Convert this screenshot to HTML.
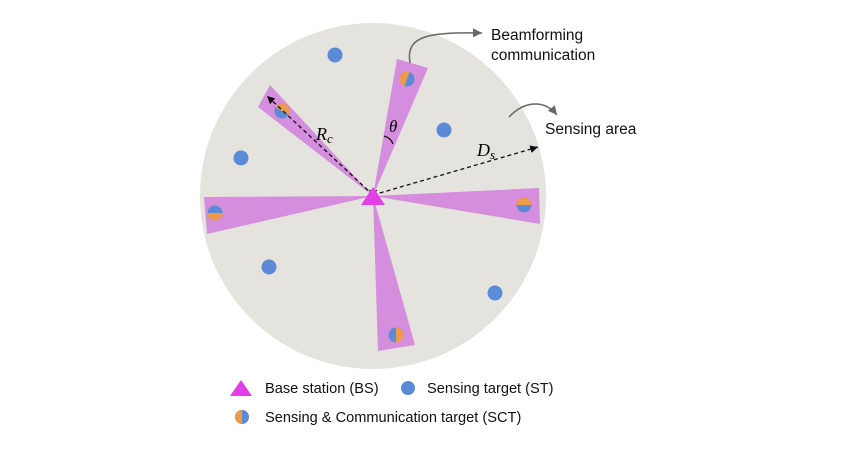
<!DOCTYPE html>
<html><head><style>body{margin:0;background:#fff}svg{display:block}</style></head><body>
<svg width="850" height="450" viewBox="0 0 850 450" xmlns="http://www.w3.org/2000/svg" font-family="Liberation Sans, sans-serif">
<defs><marker id="a" markerWidth="8" markerHeight="8" refX="6" refY="3" orient="auto"><path d="M0,0L6,3L0,6z" fill="#111"/></marker>
<marker id="g" markerWidth="8" markerHeight="8" refX="6" refY="3" orient="auto"><path d="M0,0L6,3L0,6z" fill="#666"/></marker></defs>
<circle cx="373" cy="196" r="173" fill="#e5e3de"/>
<g fill="#d58ddd">
<polygon points="373,196 397,59 428,68"/>
<polygon points="373,196 270,85 258,107"/>
<polygon points="373,196 204,197 207,234"/>
<polygon points="373,196 539,188 540,224"/>
<polygon points="373,196 378,351 415,345"/>
</g>
<g fill="#5b8ad6">
<circle cx="335" cy="55" r="7.5"/><circle cx="444" cy="130" r="7.5"/><circle cx="241" cy="158" r="7.5"/><circle cx="269" cy="267" r="7.5"/><circle cx="495" cy="293" r="7.5"/>
</g>
<g>
<g transform="translate(407,79) rotate(20)"><circle r="7.5" fill="#5b8ad6"/><path d="M0,-7.5A7.5,7.5 0 0 0 0,7.5z" fill="#ee9a4d"/></g>
<g transform="translate(282,111) rotate(120)"><circle r="7.5" fill="#5b8ad6"/><path d="M0,-7.5A7.5,7.5 0 0 0 0,7.5z" fill="#ee9a4d"/></g>
<g transform="translate(215,213) rotate(-90)"><circle r="7.5" fill="#5b8ad6"/><path d="M0,-7.5A7.5,7.5 0 0 0 0,7.5z" fill="#ee9a4d"/></g>
<g transform="translate(524,205) rotate(90)"><circle r="7.5" fill="#5b8ad6"/><path d="M0,-7.5A7.5,7.5 0 0 0 0,7.5z" fill="#ee9a4d"/></g>
<g transform="translate(396,335) rotate(180)"><circle r="7.5" fill="#5b8ad6"/><path d="M0,-7.5A7.5,7.5 0 0 0 0,7.5z" fill="#ee9a4d"/></g>
</g>
<line x1="373" y1="195" x2="267" y2="96" stroke="#111" stroke-width="1.3" stroke-dasharray="4,3" marker-end="url(#a)"/>
<line x1="373" y1="195" x2="538" y2="147" stroke="#111" stroke-width="1.3" stroke-dasharray="4,3" marker-end="url(#a)"/>
<path d="M384,136 Q391,138 393,144" fill="none" stroke="#111" stroke-width="1.2"/>
<path d="M369,190 Q373,194 377,190" fill="none" stroke="#111" stroke-width="1"/>
<polygon points="361,205 385,205 373,187" fill="#e23fe6"/>
<text x="316" y="140" font-family="Liberation Serif, serif" font-style="italic" font-size="18">R<tspan font-size="13" dy="3">c</tspan></text>
<text x="477" y="156" font-family="Liberation Serif, serif" font-style="italic" font-size="18">D<tspan font-size="13" dy="3">s</tspan></text>
<text x="389" y="132" font-family="Liberation Serif, serif" font-style="italic" font-size="17">θ</text>
<path d="M410,63 C405,35 430,32 482,33" fill="none" stroke="#666" stroke-width="1.5" marker-end="url(#g)"/>
<path d="M509,117 C525,100 545,100 557,115" fill="none" stroke="#666" stroke-width="1.5" marker-end="url(#g)"/>
<g font-size="15.5" fill="#111">
<text x="491" y="40">Beamforming</text>
<text x="491" y="60">communication</text>
<text x="545" y="134">Sensing area</text>
</g>
<polygon points="230,396 252,396 241,380" fill="#e23fe6"/>
<circle cx="408" cy="388" r="7" fill="#5b8ad6"/>
<circle cx="242" cy="417" r="7" fill="#5b8ad6"/><path d="M242,410A7,7 0 0 0 242,424z" fill="#ee9a4d"/>
<g font-size="14.6" fill="#111">
<text x="265" y="393">Base station (BS)</text>
<text x="427" y="393">Sensing target (ST)</text>
<text x="265" y="422">Sensing &amp; Communication target (SCT)</text>
</g>
</svg>
</body></html>
